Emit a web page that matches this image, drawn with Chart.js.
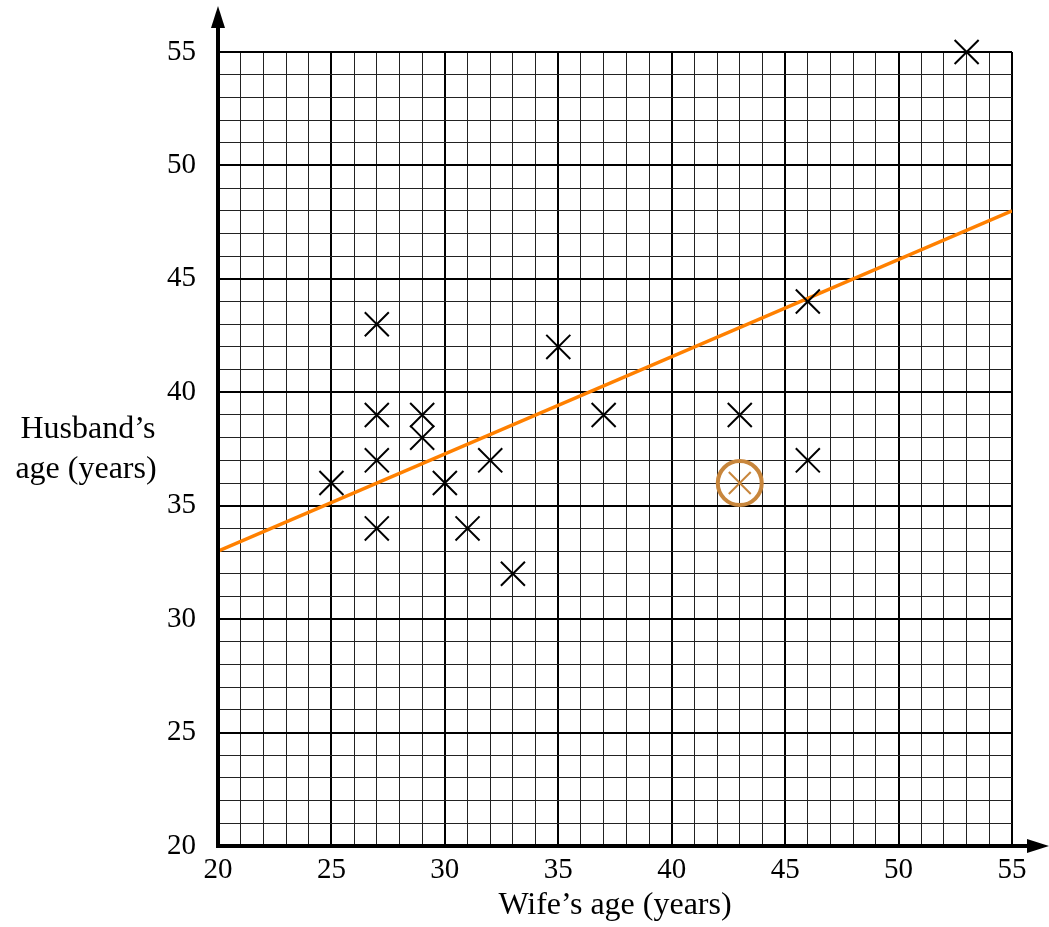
<!DOCTYPE html>
<html>
<head>
<meta charset="utf-8">
<style>
  html, body { margin: 0; padding: 0; background: #fff; }
  #wrap { width: 1049px; height: 927px; position: relative; }
</style>
<script src="https://cdn.jsdelivr.net/npm/chart.js@4.4.1/dist/chart.umd.min.js"></script>
</head>
<body>
<div id="wrap"><canvas id="c" width="1049" height="927"></canvas></div>
<script>
// Data
const wifeAges    = [25, 27, 27, 27, 27, 29, 29, 30, 31, 32, 33, 35, 37, 43, 46, 46, 53];
const husbandAges = [36, 43, 39, 37, 34, 39, 38, 36, 34, 37, 32, 42, 39, 39, 44, 37, 55];
const outlierWife = [43];
const outlierHusband = [36];
const lineX = [20, 55];
const lineY = [33, 48];
const axisMin = 20, axisMax = 55;
const xTitle = "Wife\u2019s age (years)";
const yTitleLines = ["Husband\u2019s", "age (years)"];

const FONT = "'Liberation Serif', 'DejaVu Serif', serif";

const pts = wifeAges.map((x, i) => ({ x, y: husbandAges[i] }));
const outPts = outlierWife.map((x, i) => ({ x, y: outlierHusband[i] }));
const linePts = lineX.map((x, i) => ({ x, y: lineY[i] }));

const gridWidth = (ctx) => {
  const v = ctx.tick && ctx.tick.value;
  if (v === axisMin) return 0;
  return (v % 5 === 0) ? 2 : 1;
};
const gridColor = (ctx) => {
  const v = ctx.tick && ctx.tick.value;
  return (v % 5 === 0) ? '#000' : '#222';
};

const decor = {
  id: 'decor',
  afterDraw(chart) {
    const { ctx, chartArea: a } = chart;
    ctx.save();
    ctx.strokeStyle = '#000';
    ctx.fillStyle = '#000';
    ctx.lineWidth = 4;
    ctx.beginPath();
    ctx.moveTo(a.left, a.bottom + 2);
    ctx.lineTo(a.left, 22);
    ctx.moveTo(a.left - 2, a.bottom);
    ctx.lineTo(1034, a.bottom);
    ctx.stroke();
    ctx.beginPath();
    ctx.moveTo(a.left, 6);
    ctx.lineTo(a.left - 7, 28);
    ctx.lineTo(a.left + 7, 28);
    ctx.closePath();
    ctx.fill();
    ctx.beginPath();
    ctx.moveTo(1049, a.bottom);
    ctx.lineTo(1027, a.bottom - 7);
    ctx.lineTo(1027, a.bottom + 7);
    ctx.closePath();
    ctx.fill();
    ctx.font = "32px " + FONT;
    ctx.textAlign = 'center';
    ctx.textBaseline = 'middle';
    ctx.fillText(xTitle, 615, 906);
    ctx.fillText(yTitleLines[0], 88, 430);
    ctx.fillText(yTitleLines[1], 86, 470);
    ctx.restore();
  }
};

new Chart(document.getElementById('c'), {
  type: 'scatter',
  data: {
    datasets: [
      {
        type: 'line',
        data: linePts,
        borderColor: '#ff8000',
        borderWidth: 3.5,
        pointRadius: 0,
        fill: false,
        order: 3
      },
      {
        data: pts,
        pointStyle: 'crossRot',
        pointRadius: 17,
        pointHoverRadius: 17,
        borderColor: '#000',
        backgroundColor: '#000',
        borderWidth: 2,
        clip: false,
        order: 1
      },
      {
        data: outPts,
        pointStyle: 'crossRot',
        pointRadius: 15.5,
        pointHoverRadius: 15.5,
        borderColor: '#c8863c',
        borderWidth: 2,
        clip: false,
        order: 1
      },
      {
        data: outPts,
        pointStyle: 'circle',
        pointRadius: 22,
        pointHoverRadius: 22,
        borderColor: '#c8863c',
        backgroundColor: 'rgba(0,0,0,0)',
        borderWidth: 4,
        clip: false,
        order: 1
      }
    ]
  },
  options: {
    responsive: false,
    animation: false,
    events: [],
    layout: { padding: { top: 52, right: 37, left: 0, bottom: 0 } },
    plugins: { legend: { display: false }, tooltip: { enabled: false } },
    scales: {
      x: {
        type: 'linear',
        min: axisMin, max: axisMax,
        afterFit: (s) => { s.height = 81; },
        border: { display: false },
        grid: { color: gridColor, lineWidth: gridWidth, drawTicks: false },
        ticks: {
          stepSize: 1, autoSkip: false, maxRotation: 0,
          padding: 7,
          color: '#000',
          font: { family: FONT, size: 29 },
          callback: (v) => (v % 5 === 0 ? String(v) : '')
        }
      },
      y: {
        type: 'linear',
        min: axisMin, max: axisMax,
        afterFit: (s) => { s.width = 218; },
        border: { display: false },
        grid: { color: gridColor, lineWidth: gridWidth, drawTicks: false },
        ticks: {
          stepSize: 1, autoSkip: false,
          padding: 22,
          color: '#000',
          font: { family: FONT, size: 29 },
          callback: (v) => (v % 5 === 0 ? String(v) : '')
        }
      }
    }
  },
  plugins: [decor]
});
</script>
</body>
</html>
